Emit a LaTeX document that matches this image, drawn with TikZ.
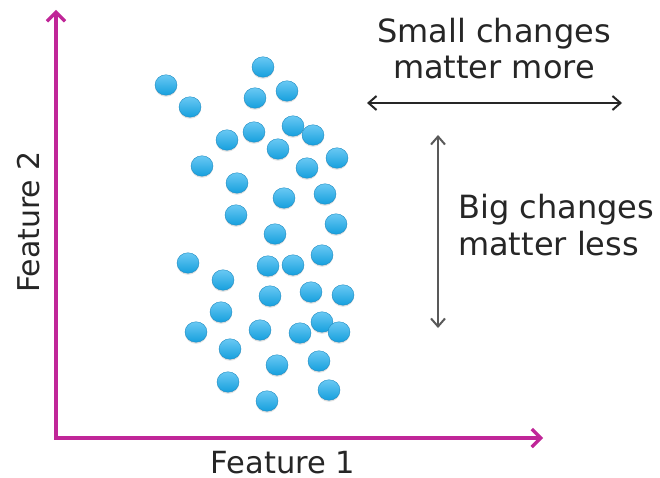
\documentclass[tikz,border=0pt]{standalone}
\usepackage{fontspec}
\setmainfont{DejaVu Sans}
\usetikzlibrary{arrows.meta,shapes.geometric,shadows}
\definecolor{axismag}{RGB}{192,38,152}
\definecolor{dotlight}{RGB}{105,200,243}
\definecolor{dotdark}{RGB}{22,160,222}
\definecolor{dotedge}{RGB}{30,140,195}
\definecolor{txt}{RGB}{38,38,38}
\tikzset{
  dot/.style={ellipse, minimum width=22pt, minimum height=20.5pt, inner sep=0pt,
    top color=dotlight, bottom color=dotdark, draw=dotedge, line width=0.4pt,
    drop shadow={opacity=0.25, shadow xshift=0pt, shadow yshift=-1.5pt}},
  axisarrow/.style={draw=axismag, line width=3.5pt, line cap=rect,
    -{Straight Barb[length=9pt,width=18pt,line width=3.2pt]}},
  blackarrow/.style={draw=black!85, line width=2pt,
    {Straight Barb[length=8pt,width=14pt,line width=2pt]}-{Straight Barb[length=8pt,width=14pt,line width=2pt]}},
  lbl/.style={text=txt, inner sep=0pt},
}
\begin{document}
\begin{tikzpicture}[x=1pt,y=-1pt]
\useasboundingbox[fill=white] (0,0) rectangle (660,478);
% axes
\coordinate (o) at (56,438);
\coordinate (ytip) at (56,10);
\coordinate (xtip) at (543,438);
\draw[axisarrow] (o) -- (ytip);
\draw[axisarrow] (o) -- (xtip);
% dots
\foreach \n/\x/\y in {1/166/85, 2/190/107, 3/263/67, 4/255/98, 5/287/91,
  6/227/140, 7/254/132, 8/293/126, 9/313/135, 10/278/149, 11/337/158,
  12/202/166, 13/307/168, 14/237/183, 15/325/194, 16/284/198, 17/236/215,
  18/336/224, 19/275/234, 20/188/263, 21/268/266, 22/293/265, 23/322/255,
  24/223/280, 25/311/292, 26/343/295, 27/270/296, 28/221/312, 29/196/332,
  30/260/330, 31/300/333, 32/322/322, 33/339/332, 34/230/349, 35/319/361,
  36/277/365, 37/228/382, 38/329/390, 39/267/401}
  \node[dot] (d\n) at (\x,\y) {};
% arrows
\coordinate (hl) at (367,103);
\coordinate (hr) at (622,103);
\draw[blackarrow] (hl) -- (hr);
\coordinate (vt) at (438,135);
\coordinate (vb) at (438,328);
\draw[blackarrow, draw=black!65, line width=1.6pt] (vt) -- (vb);
% labels
\node[lbl, anchor=base, align=center, font=\fontsize{32}{36}\selectfont] (small) at (494,79)
  {Small changes\\matter more};
\node[lbl, anchor=base west, align=left, font=\fontsize{32}{37}\selectfont] (big) at (458,255)
  {Big changes\\matter less};
\node[lbl, anchor=base, font=\fontsize{30.5}{36}\selectfont] (f1) at (283,473) {Feature 1};
\node[lbl, anchor=base, rotate=90, font=\fontsize{30}{36}\selectfont] (f2) at (39,222) {Feature 2};
\end{tikzpicture}
\end{document}
